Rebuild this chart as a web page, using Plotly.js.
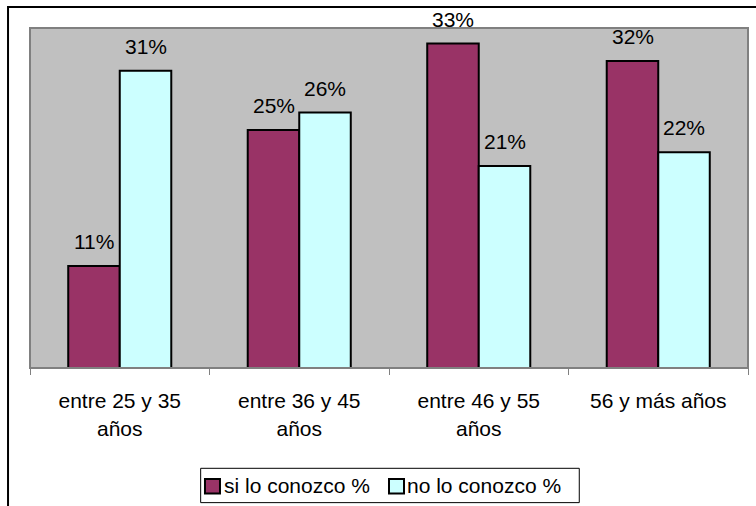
<!DOCTYPE html>
<html>
<head>
<meta charset="utf-8">
<script src="https://cdn.plot.ly/plotly-3.0.1.min.js"></script>
<style>html,body{margin:0;padding:0;background:#fff;}#chart{width:756px;height:506px;}</style>
</head>
<body>
<div id="chart"></div>
<script>
var categories = ["entre 25 y 35<br>años", "entre 36 y 45<br>años", "entre 46 y 55<br>años", "56 y más años"];
var seriesNames = ["si lo conozco %", "no lo conozco %"];
var seriesColors = ["#993366", "#CCFFFF"];
var siValues = [0.105, 0.245, 0.334, 0.316];
var noValues = [0.306, 0.263, 0.208, 0.222];
var siLabels = ["11%", "25%", "33%", "32%"];
var noLabels = ["31%", "26%", "21%", "22%"];

var FONT = "Liberation Sans, Arial, sans-serif";
var FS = 21;

var traces = [
  {type: "bar", name: seriesNames[0], x: categories, y: siValues,
   marker: {color: seriesColors[0], line: {color: "#000000", width: 2}}, hoverinfo: "skip"},
  {type: "bar", name: seriesNames[1], x: categories, y: noValues,
   marker: {color: seriesColors[1], line: {color: "#000000", width: 2}}, hoverinfo: "skip"}
];

var barHalf = 25.75;
var annotations = [];
function addLabels(vals, labels, shift) {
  for (var i = 0; i < vals.length; i++) {
    annotations.push({x: categories[i], y: vals[i], xref: "x", yref: "y", text: labels[i],
      showarrow: false, xshift: shift, yshift: 11, yanchor: "bottom",
      font: {family: FONT, size: FS, color: "#000"}});
  }
}
addLabels(siValues, siLabels, -barHalf);
addLabels(noValues, noLabels, barHalf);

// custom legend (paper coordinates)
var shapes = [
  {type: "rect", xref: "paper", yref: "paper", x0: 0, x1: 1, y0: 0, y1: 1,
   line: {color: "#808080", width: 2}, layer: "above"},
  {type: "rect", xref: "paper", yref: "paper", x0: -0.0306, x1: 1.3, y0: -0.7, y1: 1.0618,
   line: {color: "#000000", width: 2}, layer: "above"},
  {type: "rect", xref: "paper", yref: "paper", x0: 0.2377, x1: 0.7650, y0: -0.396, y1: -0.295,
   line: {color: "#000000", width: 1}, fillcolor: "#ffffff", layer: "above"}
];
var legendIconX = [0.2437, 0.5];
var legendTextX = [0.2674, 0.5223];
for (var k = 0; k < seriesNames.length; k++) {
  shapes.push({type: "rect", xref: "paper", yref: "paper", x0: legendIconX[k], x1: legendIconX[k] + 0.0209,
    y0: -0.3691, y1: -0.3265, line: {color: "#000", width: 2}, fillcolor: seriesColors[k], layer: "above"});
  annotations.push({xref: "paper", yref: "paper", x: legendTextX[k], y: -0.347, xanchor: "left", yanchor: "middle",
    text: seriesNames[k], showarrow: false, font: {family: FONT, size: FS, color: "#000"}});
}

var layout = {
  width: 756, height: 506,
  margin: {l: 30, r: 8, t: 28, b: 138, autoexpand: false},
  paper_bgcolor: "#ffffff",
  plot_bgcolor: "#C0C0C0",
  barmode: "group",
  bargap: 0.426,
  bargroupgap: 0,
  font: {family: FONT, size: FS, color: "#000"},
  showlegend: false,
  xaxis: {type: "category", showline: true, linecolor: "#808080", linewidth: 1,
    ticks: "outside", ticklen: 6, tickcolor: "#808080", tickson: "boundaries",
    ticklabelstandoff: 14, automargin: false,
    showgrid: false, zeroline: false, tickfont: {family: FONT, size: FS, color: "#000"},
    fixedrange: true},
  yaxis: {range: [0, 0.35], visible: false, showgrid: false, zeroline: false, fixedrange: true, automargin: false},
  annotations: annotations,
  shapes: shapes
};

Plotly.newPlot("chart", traces, layout, {displayModeBar: false, staticPlot: true});
</script>
</body>
</html>
